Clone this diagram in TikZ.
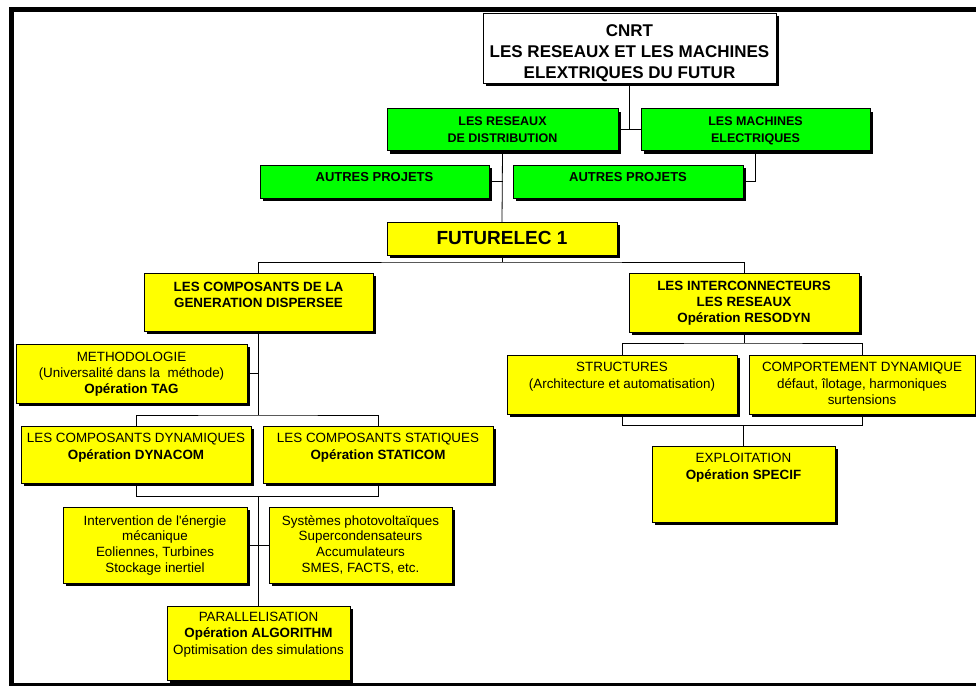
\documentclass[tikz,border=0pt]{standalone}
\usepackage{fontspec}
\setmainfont{Liberation Sans}[Ligatures=TeXOff]
\usetikzlibrary{shadows}
\definecolor{boxgreen}{HTML}{00FF00}
\definecolor{boxyellow}{HTML}{FFFF00}
\tikzset{
  orgbox/.style={draw=black, line width=0.9pt, rectangle, inner sep=0pt, outer sep=0pt,
    drop shadow={shadow xshift=3pt, shadow yshift=-3pt, fill=black, opacity=1}},
  gbox/.style={orgbox, fill=boxgreen},
  ybox/.style={orgbox, fill=boxyellow},
  wbox/.style={orgbox, fill=white},
  lbl/.style={anchor=north, inner sep=0pt, align=center, font=\fontsize{13.4}{16.5}\selectfont},
  blbl/.style={lbl, font=\fontsize{13.4}{16}\selectfont\bfseries},
  conn/.style={draw=black, line width=0.8pt},
}
\newcommand\mkbox[6]{\node[#2, minimum width={(#5)-(#3)}, minimum height={(#6)-(#4)}] (#1) at ({((#3)+(#5))/2},{((#4)+(#6))/2}) {};}
\begin{document}
\begin{tikzpicture}[x=1pt,y=-1pt]
\useasboundingbox (0,0) rectangle (976,686);
% frame
\fill[black] (9,7) rectangle (976,12);
\fill[black] (9,7) rectangle (14,686);
\fill[black] (9,683) rectangle (976,686);
% boxes
\mkbox{cnrt}{wbox}{483}{13}{776}{83}
\mkbox{res}{gbox}{387}{108.5}{618}{150.5}
\mkbox{mach}{gbox}{641}{108.5}{870}{150.5}
\mkbox{aut1}{gbox}{260}{165}{489}{198}
\mkbox{aut2}{gbox}{513}{165}{743}{198}
\mkbox{fut}{ybox}{387}{222}{617}{255}
\mkbox{gen}{ybox}{144}{273}{373}{331}
\mkbox{inter}{ybox}{629}{273}{859}{332}
\mkbox{meth}{ybox}{16}{344}{247}{403}
\mkbox{struct}{ybox}{507}{355}{737}{414}
\mkbox{comp}{ybox}{749}{355}{975}{414}
\mkbox{dyn}{ybox}{21}{426}{251}{483}
\mkbox{stat}{ybox}{263}{426}{493}{483}
\mkbox{interv}{ybox}{63}{507}{247}{583}
\mkbox{sys}{ybox}{269}{507}{452}{583}
\mkbox{para}{ybox}{167}{606}{350}{680}
\mkbox{expl}{ybox}{652}{446}{835}{522}
% texts
\node[lbl, font=\fontsize{17}{21}\selectfont\bfseries] (tcnrt) at ([yshift=-11pt]cnrt.north) {CNRT\\LES RESEAUX ET LES MACHINES\\ELEXTRIQUES DU FUTUR};
\node[lbl, font=\fontsize{12.5}{16.3}\selectfont\bfseries] (tres) at ([yshift=-8.5pt]res.north) {LES RESEAUX\\DE DISTRIBUTION};
\node[lbl, font=\fontsize{12.5}{16.3}\selectfont\bfseries] (tmach) at ([yshift=-8.5pt]mach.north) {LES MACHINES\\ELECTRIQUES};
\node[lbl, font=\fontsize{13}{16}\selectfont\bfseries] (taut1) at ([yshift=-7pt]aut1.north) {AUTRES PROJETS};
\node[lbl, font=\fontsize{13}{16}\selectfont\bfseries] (taut2) at ([yshift=-7pt]aut2.north) {AUTRES PROJETS};
\node[lbl, font=\fontsize{19}{22}\selectfont\bfseries] (tfut) at ([yshift=-9pt]fut.north) {FUTURELEC 1};
\node[blbl] (tgen) at ([yshift=-9pt]gen.north) {LES COMPOSANTS DE LA\\GENERATION DISPERSEE};
\node[blbl] (tinter) at ([yshift=-8pt]inter.north) {LES INTERCONNECTEURS\\LES RESEAUX\\Opération RESODYN};
\node[lbl, font=\fontsize{13.4}{16}\selectfont] (tmeth) at ([yshift=-8pt]meth.north) {METHODOLOGIE\\(Universalité dans la\ \ méthode)\\\textbf{Opération TAG}};
\node[lbl, font=\fontsize{13.4}{16.7}\selectfont] (tstruct) at ([yshift=-7pt]struct.north) {STRUCTURES\\(Architecture et automatisation)};
\node[lbl, font=\fontsize{13.4}{16.7}\selectfont] (tcomp) at ([yshift=-7pt]comp.north) {COMPORTEMENT DYNAMIQUE\\défaut, îlotage, harmoniques\\surtensions};
\node[lbl, font=\fontsize{13.4}{17.3}\selectfont] (tdyn) at ([yshift=-7pt]dyn.north) {LES COMPOSANTS DYNAMIQUES\\\textbf{Opération DYNACOM}};
\node[lbl, font=\fontsize{13.4}{17.3}\selectfont] (tstat) at ([yshift=-7pt]stat.north) {LES COMPOSANTS STATIQUES\\\textbf{Opération STATICOM}};
\node[lbl, font=\fontsize{13.4}{15.9}\selectfont] (tinterv) at ([yshift=-8pt]interv.north) {Intervention de l'énergie\\mécanique\\Eoliennes, Turbines\\Stockage inertiel};
\node[lbl, font=\fontsize{13.4}{15.9}\selectfont] (tsys) at ([yshift=-8pt]sys.north) {Systèmes photovoltaïques\\Supercondensateurs\\Accumulateurs\\SMES, FACTS, etc.};
\node[lbl, font=\fontsize{13.4}{16.3}\selectfont] (tpara) at ([yshift=-6pt]para.north) {PARALLELISATION\\\textbf{Opération ALGORITHM}\\Optimisation des simulations};
\node[lbl, font=\fontsize{13.4}{16.7}\selectfont] (texpl) at ([yshift=-7pt]expl.north) {EXPLOITATION\\\textbf{Opération SPECIF}};
% junctions
\coordinate (j1) at (502,262);
\coordinate (j2) at (258.5,415);
\coordinate (j3) at (258.5,496);
\coordinate (j4) at (744,343);
\coordinate (j5) at (743.5,425);
% connectors
\draw[conn] (cnrt.south) -- (cnrt.south |- res.east);
\draw[conn] (res.east) -- (mach.west);
\draw[conn] (res.south) -- (fut.north);
\draw[conn] (aut1.east) -- (aut1.east -| res.south);
\draw[conn] (mach.south) |- (aut2.east);
\draw[conn] (fut.south) -- (j1);
\draw[conn] (gen.north) |- (j1) -| (inter.north);
\draw[conn] (gen.south) -- (j2);
\draw[conn] (meth.east) -- (meth.east -| gen.south);
\draw[conn] (dyn.north) |- (j2) -| (stat.north);
\draw[conn] (dyn.south) |- (j3) -| (stat.south);
\draw[conn] (j3) -- (para.north);
\draw[conn] (interv.east) -- (sys.west);
\draw[conn] (inter.south) -- (j4);
\draw[conn] (struct.north) |- (j4) -| (comp.north);
\draw[conn] (struct.south) |- (j5) -| (comp.south);
\draw[conn] (j5) -- (expl.north);
\end{tikzpicture}
\end{document}
